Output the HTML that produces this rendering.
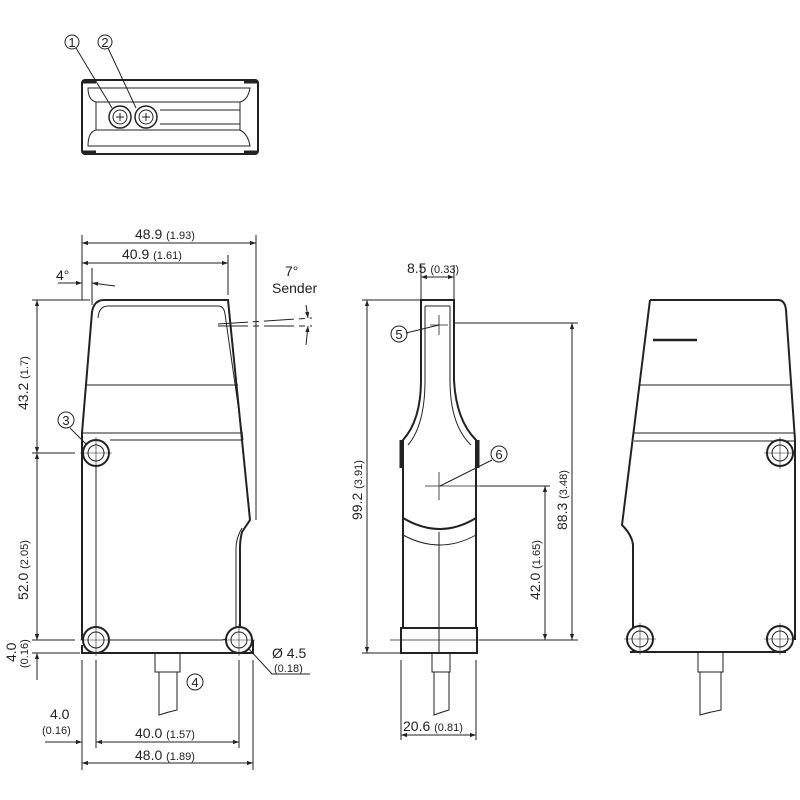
<!DOCTYPE html>
<html><head><style>body{margin:0;background:#fff}svg{display:block}text{font-family:"Liberation Sans",sans-serif;fill:#222}</style></head><body>
<svg width="800" height="800" viewBox="0 0 800 800" xmlns="http://www.w3.org/2000/svg">
<defs><marker id="a" viewBox="0 0 10 10" refX="10" refY="5" markerWidth="10" markerHeight="6" markerUnits="userSpaceOnUse" orient="auto-start-reverse"><path d="M0,1.5L10,5L0,8.5z" fill="#222"/></marker></defs>
<g stroke="#222" fill="none" stroke-width="1">
<!-- top view -->
<rect x="82" y="80" width="176" height="74" rx="3" stroke-width="2"/>
<path d="M82,82 h14 M82,152 h14 M244,82 h14 M244,152 h14" stroke-width="3"/>
<path d="M88,88 H250 Q248,100 240,102 H96 Q88,100 88,88Z"/>
<path d="M88,146 H250 Q248,134 240,130 H96 Q88,132 88,146Z"/>
<line x1="96" y1="102" x2="96" y2="130"/><line x1="240" y1="102" x2="240" y2="130"/>
<line x1="160" y1="110" x2="240" y2="110"/><line x1="160" y1="124" x2="240" y2="124"/>
<circle cx="120" cy="117" r="11" stroke-width="1.5"/><circle cx="120" cy="117" r="7"/>
<circle cx="146" cy="117" r="11" stroke-width="1.5"/><circle cx="146" cy="117" r="7"/>
<path d="M116,117h8M120,113v8M142,117h8M146,113v8"/>
<line x1="76" y1="48" x2="112" y2="108"/><line x1="108" y1="48" x2="136" y2="108"/>
<circle cx="72" cy="42" r="7"/><circle cx="105" cy="42" r="7"/>
<!-- front view -->
<path d="M92,312 Q94,300 104,300 H228 L250,520 L242,532 Q240,540 240,548 V640 M82,640 V433 L92,312" stroke-width="2"/>
<path d="M82,645 V653 H253 V640" stroke-width="2"/>
<path d="M98,318 Q99,306 108,306 H218 Q224,306 225,314 L243,440 M96,453 V632 Q98,638 110,640 L222,640 Q232,638 236,632 V548 Q236,538 242,528"/>
<line x1="87" y1="385" x2="238" y2="385"/><line x1="83" y1="433" x2="243" y2="433"/><line x1="110" y1="440" x2="243" y2="440"/>
<circle cx="96" cy="453" r="13" stroke-width="2" fill="#fff"/><circle cx="96" cy="453" r="8"/>
<circle cx="96" cy="640" r="13" stroke-width="2" fill="#fff"/><circle cx="96" cy="640" r="8"/>
<circle cx="239" cy="640" r="13" stroke-width="2" fill="#fff"/><circle cx="239" cy="640" r="8"/>
<path d="M80,453h32M96,437v32M80,640h32M96,624v32M223,640h32M239,624v32" stroke-width="0.6"/>
<path d="M155,653 V672 H180 V653 M159,672 V715 Q168,712 177,710 V672"/>
<!-- front dims -->
<path d="M82,235 V300 M256,235 V520 M228,255 V295 M92,268 V305"/>
<line x1="82" y1="243" x2="256" y2="243" marker-start="url(#a)" marker-end="url(#a)"/>
<line x1="82" y1="263" x2="228" y2="263" marker-start="url(#a)" marker-end="url(#a)"/>
<line x1="58" y1="283" x2="82" y2="283" marker-end="url(#a)"/><line x1="115" y1="286" x2="92" y2="283" marker-end="url(#a)"/>
<path d="M218,324 L312,318 M218,326 H312" stroke-dasharray="30,5,6,5"/>
<line x1="306" y1="305" x2="308" y2="318" marker-end="url(#a)"/><line x1="306" y1="345" x2="308" y2="326" marker-end="url(#a)"/>
<path d="M32,300 H90 M32,453 H75 M32,640 H75 M32,653 H80"/>
<line x1="37" y1="300" x2="37" y2="453" marker-start="url(#a)" marker-end="url(#a)"/>
<line x1="37" y1="453" x2="37" y2="640" marker-start="url(#a)" marker-end="url(#a)"/>
<line x1="37" y1="620" x2="37" y2="640" marker-end="url(#a)"/><line x1="37" y1="680" x2="37" y2="653" marker-end="url(#a)"/>
<path d="M82,660 V770 M96,660 V748 M239,660 V748 M253,660 V770"/>
<line x1="96" y1="742" x2="239" y2="742" marker-start="url(#a)" marker-end="url(#a)"/>
<line x1="82" y1="763" x2="253" y2="763" marker-start="url(#a)" marker-end="url(#a)"/>
<line x1="45" y1="742" x2="82" y2="742" marker-end="url(#a)"/>
<path d="M248,648 L272,674 H310"/><line x1="70" y1="428" x2="86" y2="444"/>
<circle cx="66" cy="420" r="8"/><circle cx="195" cy="682" r="8"/>
<!-- side view -->
<path d="M421,300 H454 V380 Q456,420 476,440 V628 H403 V440 Q421,420 421,380 Z" stroke-width="2"/>
<path d="M425,306 H450 M425,306 V380 Q425,425 408,445 M450,306 V380 Q450,425 471,445"/>
<path d="M403,518 Q440,540 476,518" stroke-width="2"/><path d="M403,535 Q440,555 476,535"/>
<rect x="401" y="628" width="76" height="25" stroke-width="2"/>
<path d="M401,440 V468 M478,440 V468" stroke-width="3"/>
<line x1="439" y1="532" x2="439" y2="653"/>
<path d="M432,653 V672 H450 V653 M434,672 V715 Q442,712 449,710 V672"/>
<path d="M439,315 V335 M430,325 H448 M439,472 V500 M425,486 H480 M390,640 H480" stroke-width="0.8"/>
<path d="M454,323 H578 M480,486 H550 M480,640 H578" />
<path d="M421,265 V300 M454,265 V300 M362,300 H421 M362,653 H401 M401,660 V740 M476,660 V740"/>
<line x1="421" y1="277" x2="454" y2="277" marker-start="url(#a)" marker-end="url(#a)"/>
<line x1="367" y1="300" x2="367" y2="653" marker-start="url(#a)" marker-end="url(#a)"/>
<line x1="572" y1="323" x2="572" y2="640" marker-start="url(#a)" marker-end="url(#a)"/>
<line x1="545" y1="486" x2="545" y2="640" marker-start="url(#a)" marker-end="url(#a)"/>
<line x1="401" y1="735" x2="476" y2="735" marker-start="url(#a)" marker-end="url(#a)"/>
<line x1="406" y1="333" x2="439" y2="325"/><line x1="492" y1="460" x2="440" y2="486"/>
<circle cx="399" cy="334" r="8"/><circle cx="499" cy="454" r="8"/>
<!-- right view -->
<path d="M650,300 H778 Q785,300 786,310 L795,440 V640 M630,652 H786 M633,652 V545 Q632,535 622,525 L650,300" stroke-width="2"/>
<path d="M653,340 H697" stroke-width="2.5"/>
<line x1="640" y1="385" x2="791" y2="385"/><line x1="634" y1="433" x2="794" y2="433"/><line x1="634" y1="441" x2="794" y2="441"/>
<circle cx="780" cy="453" r="13" stroke-width="2" fill="#fff"/><circle cx="780" cy="453" r="8"/>
<circle cx="640" cy="639" r="13" stroke-width="2" fill="#fff"/><circle cx="640" cy="639" r="8"/>
<circle cx="780" cy="639" r="13" stroke-width="2" fill="#fff"/><circle cx="780" cy="639" r="8"/>
<path d="M764,453h32M780,437v32M624,639h32M640,623v32M764,639h32M780,623v32" stroke-width="0.6"/>
<path d="M698,653 V672 H723 V653 M700,672 V715 Q710,712 721,710 V672"/>
</g>
<g font-size="14">
<text x="72" y="47" text-anchor="middle" font-size="13">1</text><text x="105" y="47" text-anchor="middle" font-size="13">2</text>
<text x="66" y="425" text-anchor="middle" font-size="13">3</text><text x="195" y="687" text-anchor="middle" font-size="13">4</text>
<text x="399" y="339" text-anchor="middle" font-size="13">5</text><text x="499" y="459" text-anchor="middle" font-size="13">6</text>
<text x="135" y="239">48.9 <tspan font-size="11">(1.93)</tspan></text>
<text x="122" y="259">40.9 <tspan font-size="11">(1.61)</tspan></text>
<text x="56" y="280">4°</text>
<text x="285" y="276">7°</text><text x="272" y="293">Sender</text>
<text x="272" y="658">Ø 4.5</text><text x="274" y="672" font-size="11">(0.18)</text>
<text x="135" y="738">40.0 <tspan font-size="11">(1.57)</tspan></text>
<text x="135" y="760">48.0 <tspan font-size="11">(1.89)</tspan></text>
<text x="50" y="719">4.0</text><text x="42" y="734" font-size="11">(0.16)</text>
<text transform="translate(28,410) rotate(-90)">43.2 <tspan font-size="11">(1.7)</tspan></text>
<text transform="translate(28,600) rotate(-90)">52.0 <tspan font-size="11">(2.05)</tspan></text>
<text transform="translate(16,662) rotate(-90)">4.0</text>
<text transform="translate(28,668) rotate(-90)" font-size="11">(0.16)</text>
<text x="407" y="273">8.5 <tspan font-size="11">(0.33)</tspan></text>
<text transform="translate(362,520) rotate(-90)">99.2 <tspan font-size="11">(3.91)</tspan></text>
<text transform="translate(567,530) rotate(-90)">88.3 <tspan font-size="11">(3.48)</tspan></text>
<text transform="translate(540,600) rotate(-90)">42.0 <tspan font-size="11">(1.65)</tspan></text>
<text x="403" y="731">20.6 <tspan font-size="11">(0.81)</tspan></text>
</g>
</svg></body></html>
